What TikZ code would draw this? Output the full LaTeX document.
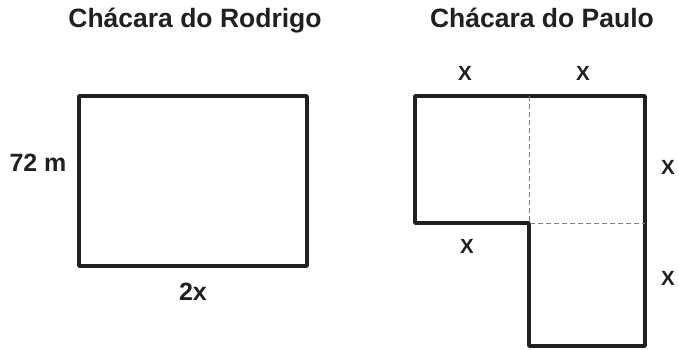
\documentclass[tikz,border=0pt]{standalone}
\usepackage{fontspec}
\setmainfont{Liberation Sans}
\usetikzlibrary{positioning}
\definecolor{ink}{RGB}{35,31,32}
\tikzset{
  heading/.style={font=\bfseries\fontsize{26.5bp}{30bp}\selectfont, text=ink, anchor=base},
  measure/.style={font=\bfseries\fontsize{25bp}{30bp}\selectfont, text=ink, anchor=base},
  side/.style={font=\bfseries\fontsize{20.5bp}{24bp}\selectfont, text=ink, anchor=base},
  border/.style={line width=3.5bp, draw=ink, line join=round},
  split/.style={line width=0.8bp, draw=gray, dash pattern=on 5bp off 3bp}
}
\begin{document}
\begin{tikzpicture}[x=1bp,y=-1bp]
	\useasboundingbox (0,0) rectangle (679,349);
	% Rodrigo
	\node[heading] (titleR) at (195,27) {Chácara do Rodrigo};
	\coordinate (r1) at (79,96);
	\coordinate (r2) at (307,266);
	\draw[border] (r1) rectangle (r2);
	\node[measure] (sideR) at (38,171) {72 m};
	\node[measure] (baseR) at (193,300) {2x};
	% Paulo
	\node[heading] (titleP) at (542,27) {Chácara do Paulo};
	\coordinate (p1) at (415,96);
	\coordinate (pm) at (529,96);
	\coordinate (p2) at (645,96);
	\coordinate (pr) at (645,223);
	\coordinate (p3) at (645,346);
	\coordinate (p4) at (529,346);
	\coordinate (p5) at (529,223);
	\coordinate (p6) at (415,223);
	\draw[border] (p1) -- (p2) -- (p3) -- (p4) -- (p5) -- (p6) -- cycle;
	\draw[split] (pm) -- (p5) -- (pr);
	\node[side] (topL) at (465,80) {X};
	\node[side] (topR) at (583,80) {X};
	\node[side] (rightU) at (668,174) {X};
	\node[side] (rightD) at (668,285) {X};
	\node[side] (stepP) at (467,253) {X};
\end{tikzpicture}
\end{document}
